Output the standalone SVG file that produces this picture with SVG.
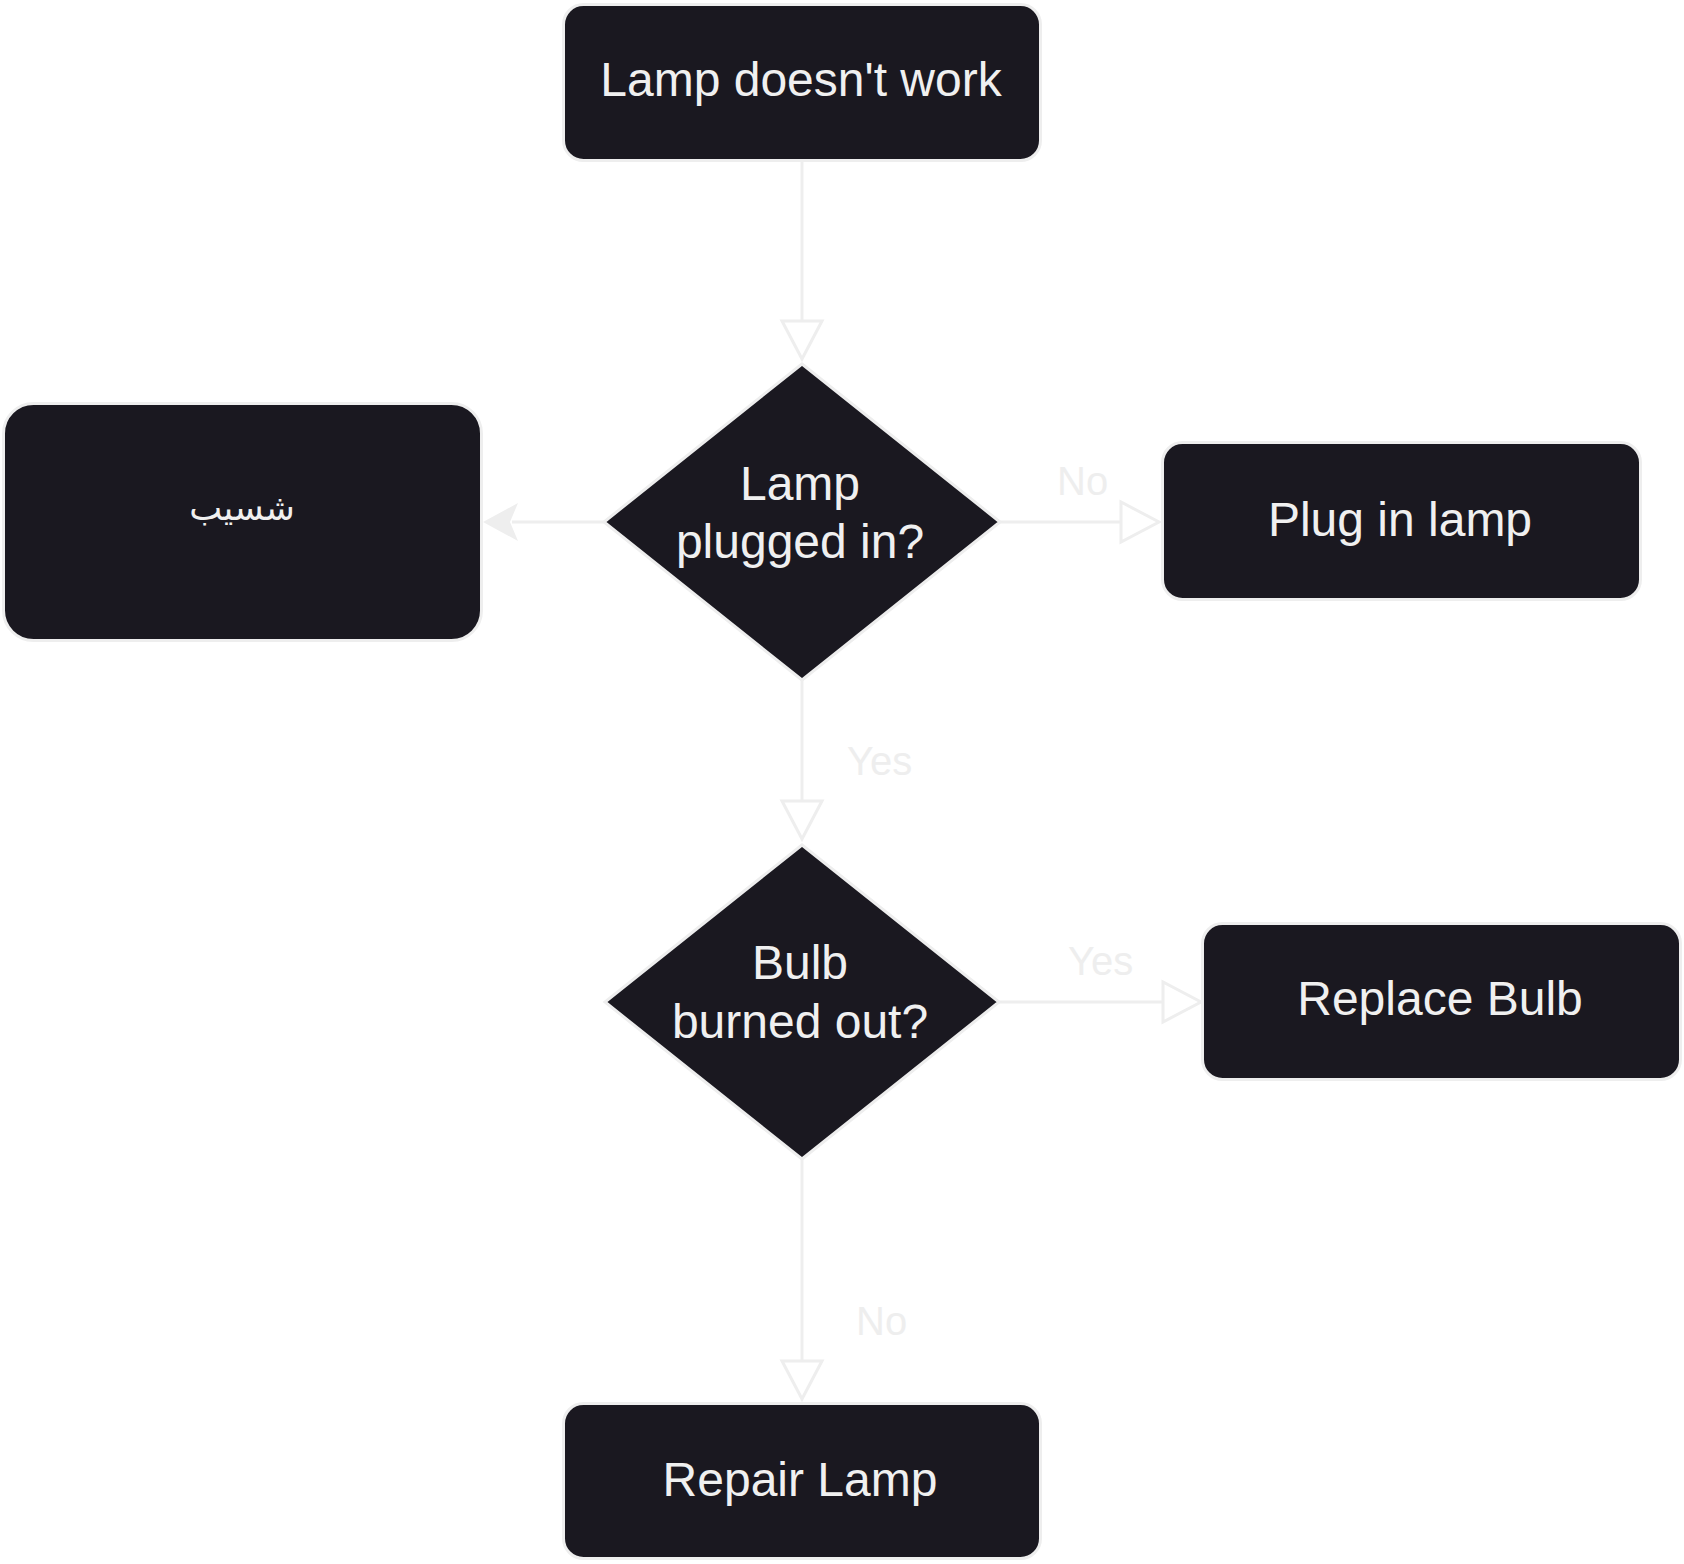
<svg xmlns="http://www.w3.org/2000/svg" width="1684" height="1564" viewBox="0 0 1684 1564">
<style>
.node{fill:#1a1820;stroke:#eeeeee;stroke-width:3}
.nt{fill:#f0f0f0;font-family:"Liberation Sans",Arial,sans-serif;font-size:48px;text-anchor:middle}
.ar{fill:#f0f0f0;font-family:"Liberation Sans","DejaVu Sans",sans-serif;font-size:35px;text-anchor:middle}
.edge{stroke:#eeeeee;stroke-width:3;fill:none}
.head{fill:#ffffff;stroke:#eeeeee;stroke-width:3;stroke-linejoin:miter}
.headf{fill:#eeeeee;stroke:none}
.lbl{fill:#eeeeee;font-family:"Liberation Sans",Arial,sans-serif;font-size:40px}
</style>
<rect width="1684" height="1564" fill="#ffffff"/>
<g id="connectors">
  <line class="edge" x1="802" y1="162" x2="802" y2="321"/>
  <polygon class="head" points="782,321 822,321 802,359"/>
  <line class="edge" x1="605" y1="522" x2="512" y2="522"/>
  <polygon class="headf" points="483,522 518,503 510,522 518,541"/>
  <line class="edge" x1="1000" y1="522" x2="1121" y2="522"/>
  <polygon class="head" points="1121,502 1121,542 1159,522"/>
  <text class="lbl" x="1057" y="495">No</text>
  <line class="edge" x1="802" y1="680" x2="802" y2="801"/>
  <polygon class="head" points="782,801 822,801 802,839"/>
  <text class="lbl" x="847" y="775">Yes</text>
  <line class="edge" x1="999" y1="1002" x2="1163" y2="1002"/>
  <polygon class="head" points="1163,982 1163,1022 1201,1002"/>
  <text class="lbl" x="1068" y="975">Yes</text>
  <line class="edge" x1="802" y1="1159" x2="802" y2="1361"/>
  <polygon class="head" points="782,1361 822,1361 802,1399"/>
  <text class="lbl" x="856" y="1335">No</text>
</g>
<g id="n-start">
  <rect class="node" x="563.5" y="4.5" width="477" height="156" rx="20"/>
  <text class="nt" x="801" y="96">Lamp doesn't work</text>
</g>
<g id="n-plugged">
  <polygon class="node" points="802,364 1000,522 802,680 604,522"/>
  <text class="nt" x="800" y="500">Lamp</text>
  <text class="nt" x="800" y="558">plugged in?</text>
</g>
<g id="n-arabic">
  <rect class="node" x="3.5" y="403.5" width="478" height="237" rx="30"/>
  <text class="ar" x="242" y="520" direction="rtl">شسيب</text>
</g>
<g id="n-plug">
  <rect class="node" x="1162.5" y="442.5" width="478" height="157" rx="20"/>
  <text class="nt" x="1400" y="536">Plug in lamp</text>
</g>
<g id="n-bulb">
  <polygon class="node" points="802,845 999,1002 802,1159 605,1002"/>
  <text class="nt" x="800" y="979">Bulb</text>
  <text class="nt" x="800" y="1038">burned out?</text>
</g>
<g id="n-replace">
  <rect class="node" x="1202.5" y="923.5" width="478" height="156" rx="20"/>
  <text class="nt" x="1440" y="1015">Replace Bulb</text>
</g>
<g id="n-repair">
  <rect class="node" x="563.5" y="1403.5" width="477" height="155" rx="20"/>
  <text class="nt" x="800" y="1496">Repair Lamp</text>
</g>
</svg>
